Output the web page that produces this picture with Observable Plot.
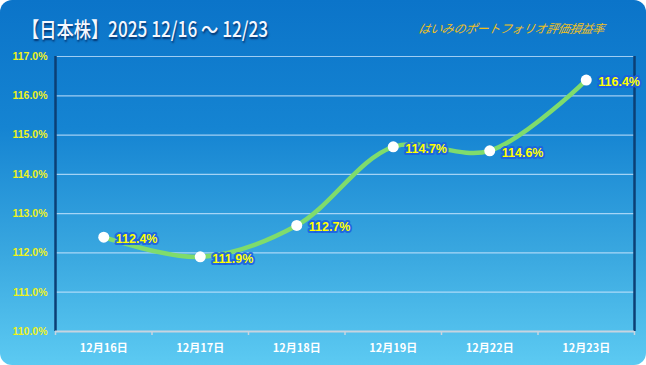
<!DOCTYPE html>
<html><head><meta charset="utf-8">
<script src="https://cdn.jsdelivr.net/npm/d3@7"></script>
<script src="https://cdn.jsdelivr.net/npm/@observablehq/plot@0.6"></script>
<style>
html,body{margin:0;padding:0;background:#fff;}
#wrap{position:relative;width:646px;height:365px;border-radius:12px;overflow:hidden;
 background:linear-gradient(to bottom,#0b74c9 0%,#1584d2 35%,#3aa8e0 70%,#5ccaf2 100%);}
#title{position:absolute;left:22px;top:13px;font-family:"Noto Sans CJK JP",sans-serif;font-size:21px;font-weight:500;color:#f4f8ff;
 text-shadow:1px 2px 2px rgba(0,30,80,0.75);white-space:nowrap;transform:scaleX(0.82);transform-origin:left top;}
#sub{position:absolute;left:419px;top:19px;font-family:"Noto Sans CJK JP",sans-serif;font-size:12px;font-style:italic;color:#f0c01c;
 white-space:nowrap;letter-spacing:-0.4px;transform:skewX(-12deg);}
#chart{position:absolute;left:0;top:0;}
</style></head>
<body>
<div id="wrap">
<div id="chart"></div>
<div id="title">【日本株】2025 12/16 ～ 12/23</div>
<div id="sub">はいみのポートフォリオ評価損益率</div>
</div>
<script>
const categories = ["12月16日","12月17日","12月18日","12月19日","12月22日","12月23日"];
const values = [112.4, 111.9, 112.7, 114.7, 114.6, 116.4];
const yTicks = [110,111,112,113,114,115,116,117];

const data = categories.map((c,i)=>({i, pos:i+0.5, cat:c, v:values[i]}));
const bounds = d3.range(categories.length+1);
const centers = categories.map((c,i)=>i+0.5);

const chart = Plot.plot({
  width:646, height:365,
  marginTop:56, marginBottom:34, marginLeft:55, marginRight:12,
  style:{background:"transparent", overflow:"visible"},
  x:{type:"linear", domain:[0,categories.length], axis:null},
  y:{domain:[110,117], axis:null},
  marks:[
    Plot.gridY(yTicks.filter(t=>t>110), {stroke:"#cfe8ff", strokeOpacity:0.75, strokeWidth:1.2}),
    Plot.ruleX([0, categories.length], {stroke:"#0b3f75", strokeWidth:2.5}),
    Plot.ruleY([110], {stroke:"#c8d4e0", strokeWidth:2}),
    Plot.axisY({ticks:yTicks, label:null, tickSize:0, tickPadding:8, tickFormat:d=>d.toFixed(1)+"%",
      fill:"#eef21c", fontSize:10.5, fontWeight:"bold", fontFamily:"Liberation Sans, Arial, sans-serif", textAnchor:"end"}),
    Plot.axisX({ticks:bounds, label:null, tickFormat:()=>"", tickSize:4, stroke:"#c8d4e0", strokeWidth:1.5}),
    Plot.axisX({ticks:centers, label:null, tickSize:0, tickPadding:13, tickFormat:d=>categories[Math.round(d-0.5)],
      fill:"#ffffff", fontSize:11, fontWeight:"bold", fontFamily:"Noto Sans CJK JP, sans-serif",
      style:{textShadow:"1px 1px 1px rgba(0,40,90,0.7)"}}),
    Plot.line(data, {x:"pos", y:"v", curve:"catmull-rom", stroke:"#7fdc6c", strokeWidth:4.5}),
    Plot.dot(data, {x:"pos", y:"v", r:5.5, fill:"#ffffff", stroke:"none"}),
    Plot.text(data, {x:"pos", y:"v", text:d=>d.v.toFixed(1)+"%", dx:12, dy:2, textAnchor:"start",
      fill:"#ffff00", stroke:"#1d5fe0", strokeWidth:4, strokeOpacity:0.85, paintOrder:"stroke",
      fontSize:12.5, fontWeight:"bold", fontFamily:"Liberation Sans, Arial, sans-serif"})
  ]
});
document.getElementById("chart").appendChild(chart);
</script>
</body></html>
